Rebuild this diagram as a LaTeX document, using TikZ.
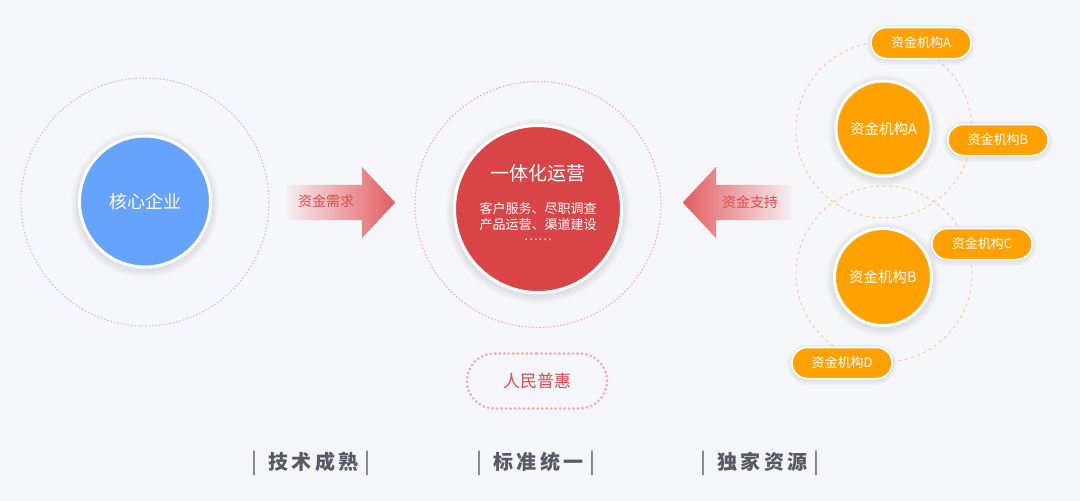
\documentclass[tikz,border=0pt]{standalone}
\usepackage{fontspec}
\setmainfont{Noto Sans CJK SC}
\usetikzlibrary{shapes.arrows,shapes.misc}
\definecolor{bg}{HTML}{F5F6FA}
\definecolor{cblue}{HTML}{66A3FD}
\definecolor{cred}{HTML}{D94447}
\definecolor{corange}{HTML}{FFA100}
\definecolor{lblue}{HTML}{A9C8F4}
\definecolor{lpink}{HTML}{F2ACAE}
\definecolor{lorange}{HTML}{F8CF8E}
\definecolor{tred}{HTML}{E04A4D}
\definecolor{tgray}{HTML}{555B66}
\definecolor{afade}{HTML}{F6EEF1}
\definecolor{ared}{HTML}{E25D60}
\newcommand{\fs}[1]{\fontsize{#1}{#1}\selectfont}
\newcommand{\vbar}{{\mdseries\addfontfeature{LetterSpace=0}\fontsize{22}{22}\selectfont|}}
\newcommand{\diskglow}[3]{%
  \foreach \k in {1,...,7}{\fill[black,opacity=0.012] (#1,#2+2) circle ({#3+\k});}}
\newcommand{\pillglow}[2]{%
  \foreach \k in {1,...,5}{\fill[black,opacity=0.015,rounded corners={15.5pt+\k pt}]
    (#1-50-\k,#2+1.5-15.5-\k) rectangle (#1+50+\k,#2+1.5+15.5+\k);}}
\tikzset{
  bigdisk/.style={circle,draw=white,line width=3pt,text=white,inner sep=0pt},
  ring/.style={circle,draw,line width=1pt,inner sep=0pt},
  pill/.style={rounded rectangle,fill=corange,draw=white,line width=1.5pt,text=white,
    minimum width=100pt,minimum height=31pt,inner sep=0pt,font=\fs{13}},
  bigarrow/.style={single arrow,inner xsep=0pt,inner ysep=17.5pt,single arrow head extend=18pt,
    single arrow tip angle=94,minimum height=108pt,draw=none},
  arrowtext/.style={text=tred,font=\fs{14}},
  foot/.style={text=tgray,font=\fs{20}\bfseries\addfontfeature{LetterSpace=16}}
}
\begin{document}
\begin{tikzpicture}[x=1pt,y=-1pt]
\useasboundingbox[fill=bg] (0,0) rectangle (1080,501);

% soft shadows
\diskglow{145}{201.5}{67}
\diskglow{538}{209}{85}
\diskglow{883.5}{128.5}{49}
\diskglow{883}{277}{50}
\pillglow{921}{43}
\pillglow{998}{140}
\pillglow{982}{244}
\pillglow{842}{363}

% left
\node[ring,draw=lblue,dash pattern=on 1.5pt off 2pt,minimum size=248pt] (lring) at (145,202) {};
\node[bigdisk,fill=cblue,minimum size=131pt,font=\fs{18}] (core) at (145,201.5) {核心企业};

% arrows
\node[bigarrow,anchor=tail,left color=afade,right color=ared] (need) at (287,202.5) {};
\node[arrowtext] (needt) at (326,201) {资金需求};
\node[bigarrow,anchor=tail,shape border rotate=180,left color=ared,right color=afade] (supp) at (791,202.5) {};
\node[arrowtext] (suppt) at (750,202) {资金支持};

% center
\node[ring,draw=lpink,dash pattern=on 1.5pt off 2pt,minimum size=246pt] (cring) at (538,204.5) {};
\node[bigdisk,fill=cred,minimum size=167pt] (ops) at (538,209) {};
\node[text=white,font=\fs{19}] (opst) at (538,173) {一体化运营};
\node[text=white,font=\fs{13},align=center,inner sep=0pt] (opss) at (538,216.5) {客户服务、尽职调查\\[3pt]产品运营、渠道建设};
\node[text=white,font=\fs{13},inner sep=0pt] (opsd) at (538,240) {……};

% pill
\node[rounded rectangle,draw=lpink,line width=3pt,dash pattern=on 0pt off 4.5pt,line cap=round,
  minimum width=147pt,minimum height=55pt,text=tred,font=\fs{17}] (pu) at (537,381) {人民普惠};

% right cluster
\node[ring,draw=lorange,dash pattern=on 3pt off 3.5pt,minimum size=176pt] (ra) at (884,130) {};
\node[ring,draw=lorange,dash pattern=on 3pt off 3.5pt,minimum size=176pt] (rb) at (884,274) {};
\node[bigdisk,fill=corange,minimum size=95pt,font=\fs{14.5}] (fa) at (883.5,128.5) {资金机构A};
\node[bigdisk,fill=corange,minimum size=97pt,font=\fs{14.5}] (fb) at (883,277) {资金机构B};
\node[pill] (pa) at (921,43) {资金机构A};
\node[pill] (pb) at (998,140) {资金机构B};
\node[pill] (pc) at (982,244) {资金机构C};
\node[pill] (pd) at (842,363) {资金机构D};

% footer
\node[foot] (f1) at (311,463) {\vbar\hspace{11pt}技术成熟\hspace{6pt}\vbar};
\node[foot] (f2) at (536,463) {\vbar\hspace{11pt}标准统一\hspace{6pt}\vbar};
\node[foot] (f3) at (760,463) {\vbar\hspace{11pt}独家资源\hspace{6pt}\vbar};
\end{tikzpicture}
\end{document}
